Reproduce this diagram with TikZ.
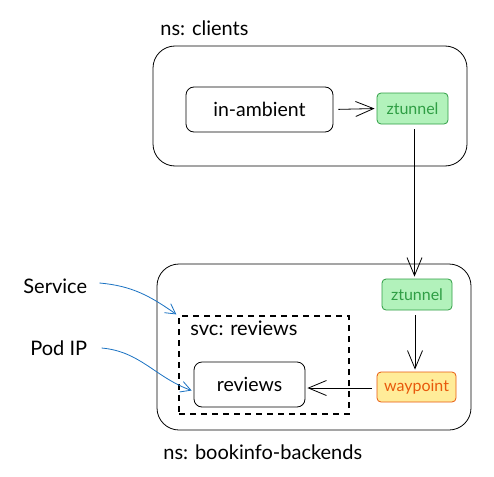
\documentclass[tikz,border=0pt]{standalone}
\usepackage{fontspec}
\setmainfont{Lato}
\usetikzlibrary{arrows.meta,positioning}
\definecolor{ztfill}{HTML}{B2F2BB}
\definecolor{ztline}{HTML}{2F9E44}
\definecolor{wpfill}{HTML}{FFEC99}
\definecolor{wpline}{HTML}{E8590C}
\definecolor{notecol}{HTML}{1971C2}

\begin{document}
\begin{tikzpicture}[x=1pt,y=-1pt,line width=0.8pt,
    nsbox/.style={draw,rounded corners=22pt,inner sep=0pt},
    podbox/.style={draw,rounded corners=8pt,inner sep=0pt,font=\fontsize{19.5}{22}\selectfont},
    ztbox/.style={draw=ztline,fill=ztfill,text=ztline,rounded corners=4pt,inner sep=0pt,
        minimum height=31pt,font=\fontsize{16}{18}\selectfont},
    wpbox/.style={draw=wpline,fill=wpfill,text=wpline,rounded corners=4pt,inner sep=0pt,
        minimum height=30pt,font=\fontsize{16}{18}\selectfont},
    lbl/.style={inner sep=0pt,anchor=west,font=\fontsize{20}{23}\selectfont},
    flow/.style={-{Straight Barb[length=18pt,width=15pt,line width=0.8pt]},shorten >=2pt,shorten <=5pt},
    note/.style={draw=notecol,-{Straight Barb[length=10pt,width=11pt]}}]
\useasboundingbox (0,0) rectangle (494,476);
% namespaces
\node[nsbox,minimum width=314pt,minimum height=120pt] (NS-1) at (310,106) {};
\node[nsbox,minimum width=314pt,minimum height=166pt] (NS-2) at (314,347) {};
\node[lbl] (NS-1-lbl) at (160,28) {ns: clients};
\node[lbl] (NS-2-lbl) at (163,452) {ns: bookinfo-backends};
% client side
\node[podbox,minimum width=147pt,minimum height=45pt] (ambient) at (259.5,109.5) {in-ambient};
\node[ztbox,minimum width=71pt] (zt-1) at (412.5,108.5) {ztunnel};
% backend side
\node[draw,dashed,dash pattern=on 6pt off 5pt,line width=1.2pt,minimum width=170pt,
    minimum height=98pt,inner sep=0pt] (svc) at (264,365) {};
\node[lbl] (svc-lbl) at (190,328) {svc: reviews};
\node[podbox,minimum width=111pt,minimum height=45pt] (rev) at (249.5,384.5) {reviews};
\node[ztbox,minimum width=70pt] (zt-2) at (417,294.5) {ztunnel};
\node[wpbox,minimum width=79pt] (wp) at (416.5,387) {waypoint};
% notes
\node[lbl] (service) at (23,286) {Service};
\node[lbl] (podip) at (30,348) {Pod IP};
% traffic
\draw[flow] (ambient.east) -- (zt-1.west);
\draw[flow] ([xshift=2pt]zt-1.south) -- ([xshift=2pt]zt-1.south |- zt-2.north);
\draw[flow] ([xshift=-2pt]zt-2.south) -- ([xshift=-2pt]zt-2.south |- wp.north);
\draw[flow] ([yshift=-1pt]wp.west) -- ([yshift=-1pt]wp.west -| rev.east);
\draw[note] ([xshift=12pt,yshift=3pt]service.east) to[out=-5,in=145] ([xshift=-2pt,yshift=1pt]svc.north west);
\draw[note] ([xshift=14pt]podip.east) to[out=-5,in=160] ([xshift=-2pt,yshift=-6pt]rev.west);
\end{tikzpicture}
\end{document}
